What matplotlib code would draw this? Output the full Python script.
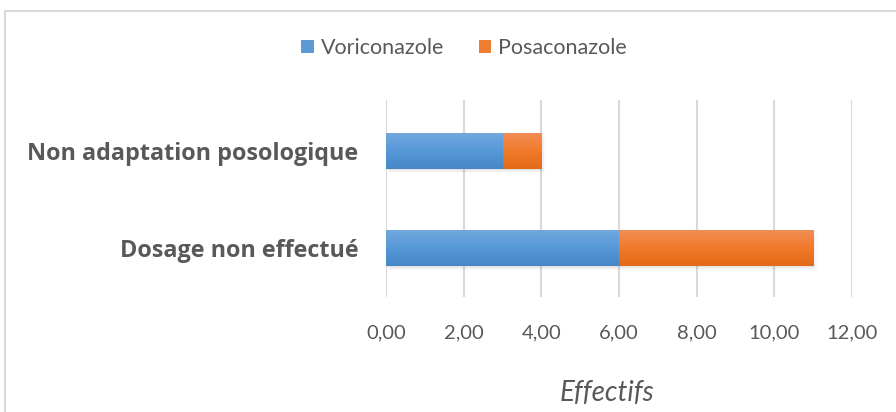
import numpy as np
import matplotlib.pyplot as plt
from matplotlib.patches import Rectangle
from matplotlib.colors import LinearSegmentedColormap

categories = ["Dosage non effectué", "Non adaptation posologique"]
voriconazole = [6, 3]
posaconazole = [5, 1]
xticks = [0, 2, 4, 6, 8, 10, 12]
xtick_labels = ["0,00", "2,00", "4,00", "6,00", "8,00", "10,00", "12,00"]

blue = "#5b9bd5"
orange = "#ed7d31"
grey_text = "#595959"
grid_col = "#d9d9d9"

fig = plt.figure(figsize=(8.96, 4.12), dpi=100)
ax = fig.add_axes([386 / 896, 1 - 297 / 412, (852 - 386) / 896, (297 - 100) / 412])

y = range(len(categories))
h = 0.37
b1 = ax.barh(y, voriconazole, height=h, color=blue, zorder=3, label="Voriconazole")
b2 = ax.barh(y, posaconazole, left=voriconazole, height=h, color=orange, zorder=3,
             label="Posaconazole")

# light-to-dark vertical gradient on each bar (Office style), plus soft shadow
grad = np.linspace(0, 1, 100).reshape(-1, 1)
cmaps = [LinearSegmentedColormap.from_list("b", ["#72a8de", "#5698d8", "#4787c6"]),
         LinearSegmentedColormap.from_list("o", ["#f28d55", "#f07a2b", "#e36a18"])]
for bars, cm in zip([b1, b2], cmaps):
    for r in bars:
        x0, y0 = r.get_x(), r.get_y()
        im = ax.imshow(grad, cmap=cm, aspect="auto", zorder=3.5, origin="upper",
                       extent=(x0, x0 + r.get_width(), y0, y0 + r.get_height()))
        im.set_clip_path(r)
        for k, a in enumerate([0.06, 0.04, 0.02]):
            d = 0.015 * (k + 1)
            ax.add_patch(Rectangle((x0 + d * 2, y0 - d), r.get_width(), r.get_height(),
                                   color="#000000", alpha=a, zorder=2.5, linewidth=0))

ax.set_xlim(0, 12)
ax.set_ylim(-0.505, 1.525)
ax.set_xticks(xticks)
ax.set_xticklabels(xtick_labels, fontsize=14.5, color=grey_text, family="Lato")
ax.set_yticks(list(y))
ax.set_yticklabels(categories, fontsize=16.8, fontweight="bold", color=grey_text,
                   family="Open Sans")
ax.tick_params(axis="both", length=0)
ax.tick_params(axis="x", pad=20)
ax.tick_params(axis="y", pad=20)
ax.grid(axis="x", color=grid_col, linewidth=1.5, zorder=0)
for s in ax.spines.values():
    s.set_visible(False)

fig.text(607 / 896, 1 - 393 / 412, "Effectifs", ha="center", va="center",
         fontsize=20, style="italic", color=grey_text, family="Lato")

handles, labels = ax.get_legend_handles_labels()
fig.legend(handles, labels, loc="center", bbox_to_anchor=(464 / 896, 1 - 48 / 412),
           ncol=2, frameon=False, handlelength=0.6, handleheight=0.6,
           handletextpad=0.3, columnspacing=1.6,
           prop={"family": "Lato", "size": 15.5}, labelcolor=grey_text)

# chart border
fig.patches.append(Rectangle((5 / 896, -0.1), 1.2, 1 - 11 / 412 + 0.1,
                             transform=fig.transFigure, fill=False,
                             edgecolor=grid_col, linewidth=1.5))

fig.savefig("out.png", dpi=100)
